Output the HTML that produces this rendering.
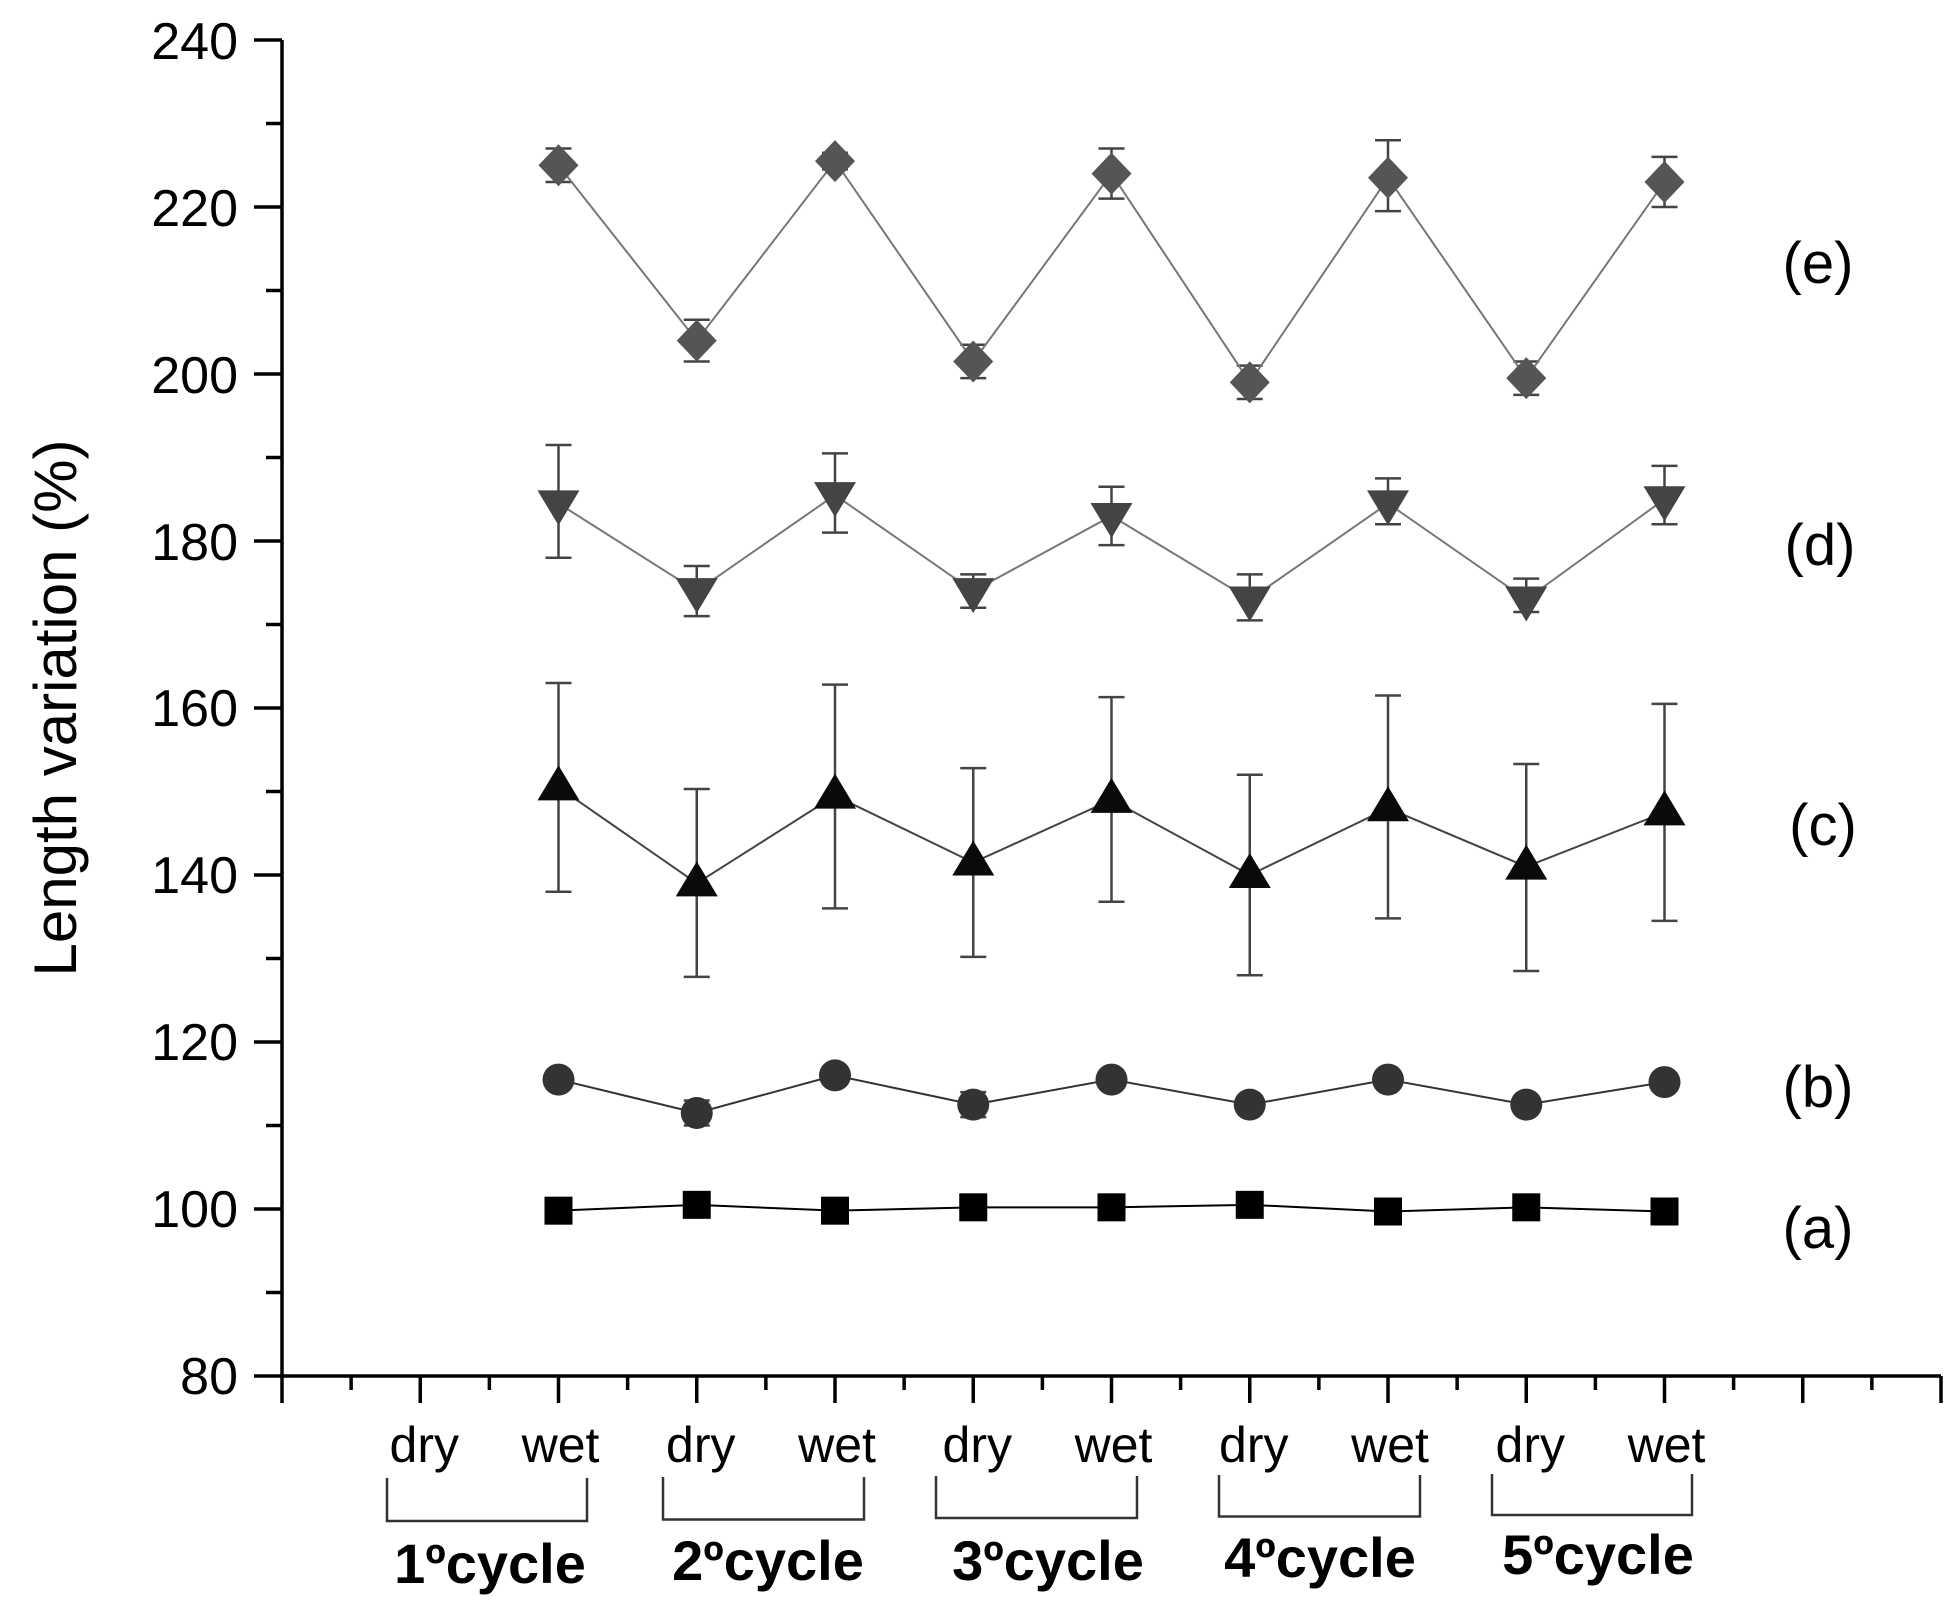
<!DOCTYPE html>
<html><head><meta charset="utf-8"><style>html,body{margin:0;padding:0;background:#fff}svg{display:block}</style></head>
<body>
<svg id="s" width="1959" height="1612" viewBox="0 0 1959 1612" xmlns="http://www.w3.org/2000/svg" font-family="Liberation Sans, sans-serif">
<g stroke="#000" stroke-width="3.5" fill="none">
<line x1="282" y1="40" x2="282" y2="1376"/>
<line x1="282" y1="1376" x2="1941" y2="1376"/>
</g>
<g id="ticks" stroke="#000" stroke-width="3.5"></g>
<g font-size="52" text-anchor="end" fill="#000">
<text x="238" y="59">240</text>
<text x="238" y="226">220</text>
<text x="238" y="393">200</text>
<text x="238" y="560">180</text>
<text x="238" y="726">160</text>
<text x="238" y="893">140</text>
<text x="238" y="1060">120</text>
<text x="238" y="1227">100</text>
<text x="238" y="1394">80</text>
</g>
<text transform="translate(76,708) rotate(-90)" font-size="60" text-anchor="middle">Length variation (%)</text>
<g id="data"></g>
<g font-size="58" text-anchor="middle">
<text x="1818" y="283">(e)</text>
<text x="1820" y="565">(d)</text>
<text x="1823" y="845">(c)</text>
<text x="1818" y="1107">(b)</text>
<text x="1818" y="1248">(a)</text>
</g>
<g font-size="50" text-anchor="middle" id="xl"></g>
<g stroke="#333" stroke-width="2.5" fill="none" id="br"></g>
<g font-size="56" font-weight="bold" text-anchor="middle">
<text x="490" y="1583">1ºcycle</text>
<text x="768" y="1580">2ºcycle</text>
<text x="1048" y="1580">3ºcycle</text>
<text x="1320" y="1577">4ºcycle</text>
<text x="1598" y="1574">5ºcycle</text>
</g>
</svg>
<script>
var NS="http://www.w3.org/2000/svg";
function el(p,t,a,txt){var e=document.createElementNS(NS,t);for(var k in a)e.setAttribute(k,a[k]);if(txt)e.textContent=txt;p.appendChild(e);return e;}
var tk=document.getElementById('ticks');
function Y(v){return 1376-(v-80)*8.35;}
for(var v=80;v<=240;v+=10){var y=Y(v);el(tk,'line',{x1:v%20==0?254:266,y1:y,x2:282,y2:y});}
var X0=282,DX=(1941-282)/12;
for(var k=0;k<=24;k++){var x=X0+k*DX/2;el(tk,'line',{x1:x,y1:1376,x2:x,y2:k%2==0?1403:1390});}
function X(i){return X0+(i+2)*DX;}
var xl=document.getElementById('xl');
for(var c=0;c<5;c++){el(xl,'text',{x:X0+(2*c+1)*DX+4,y:1462},'dry');el(xl,'text',{x:X0+(2*c+2)*DX+2,y:1462},'wet');}
var br=document.getElementById('br');
var bx=[[387,587],[663,864],[936,1137],[1219,1420],[1492,1692]];
bx.forEach(function(b,i){var t=1478-i*1,bt=1521-i*1.5;el(br,'path',{d:'M'+b[0]+' '+t+' V'+bt+' H'+b[1]+' V'+t});});
var S=[
 {v:[225,204,225.5,201.5,224,199,223.5,199.5,223],e:[[2,2],[2.5,2.5],[1,1],[2,2],[3,3],[2,2],[4.5,4],[2,2],[3,3]],c:'#555',m:'d',lc:'#777'},
 {v:[184.5,174,185.5,174,183,173,184.5,173,185],e:[[7,6.5],[3,3],[5,4.5],[2,2],[3.5,3.5],[3,2.5],[3,2.5],[2.5,1.5],[4,3]],c:'#444',m:'v',lc:'#777'},
 {v:[150.5,139,149.5,141.5,149,140,148,141,147.5],e:[[12.5,12.5],[11.3,11.2],[13.3,13.5],[11.3,11.3],[12.3,12.2],[12,12],[13.5,13.2],[12.3,12.5],[13,13]],c:'#0a0a0a',m:'^',lc:'#444'},
 {v:[115.5,111.5,116,112.5,115.5,112.5,115.5,112.5,115.2],e:[[1,1],[1.5,1.5],[1,1],[1.5,1.5],[1,1],[1,1],[1,1],[1,1],[1,1]],c:'#333',m:'o',lc:'#333'},
 {v:[99.8,100.5,99.8,100.2,100.2,100.5,99.7,100.2,99.7],e:null,c:'#000',m:'s',lc:'#000'}
];
var dg=document.getElementById('data');
S.forEach(function(s){
 var pts=s.v.map(function(v,i){return X(i)+','+Y(v);}).join(' ');
 if(s.e){s.v.forEach(function(v,i){var x=X(i),y=Y(v),t=Y(v+s.e[i][0]),b=Y(v-s.e[i][1]);
  el(dg,'path',{d:'M'+x+' '+t+' V'+b+' M'+(x-13)+' '+t+' H'+(x+13)+' M'+(x-13)+' '+b+' H'+(x+13),stroke:'#444','stroke-width':2.5,fill:'none'});});}
 el(dg,'polyline',{points:pts,fill:'none',stroke:s.lc,'stroke-width':2});
 s.v.forEach(function(v,i){var x=X(i),y=Y(v);
  if(s.m=='d')el(dg,'path',{d:'M'+x+' '+(y-21)+' L'+(x+20)+' '+y+' L'+x+' '+(y+21)+' L'+(x-20)+' '+y+'Z',fill:s.c});
  if(s.m=='v')el(dg,'path',{d:'M'+(x-21)+' '+(y-13)+' L'+(x+21)+' '+(y-13)+' L'+x+' '+(y+22)+'Z',fill:s.c});
  if(s.m=='^')el(dg,'path',{d:'M'+(x-21)+' '+(y+13)+' L'+(x+21)+' '+(y+13)+' L'+x+' '+(y-22)+'Z',fill:s.c});
  if(s.m=='o')el(dg,'circle',{cx:x,cy:y,r:16,fill:s.c});
  if(s.m=='s')el(dg,'rect',{x:x-14,y:y-14,width:28,height:28,fill:s.c});
 });
});
</script>
</body></html>
